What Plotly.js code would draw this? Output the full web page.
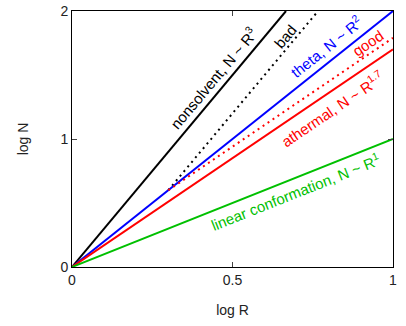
<!DOCTYPE html>
<html><head><meta charset="utf-8">
<script src="https://cdn.plot.ly/plotly-3.0.1.min.js"></script>
<style>html,body{margin:0;padding:0;background:#fff}</style>
</head><body><div id="chart" style="width:406px;height:326px"></div>
<script>
// log R values and log N values for each conformation line
const xFull = [0, 1];
const nonsolventX = [0, 0.6667];
const nonsolventY = [0, 2];
const thetaY = [0, 2];
const athermalY = [0, 1.7];
const linearY = [0, 1];
const badX = [0.3, 0.7667];
const badY = [0.6, 2];
const goodX = [0.3, 1];
const goodY = [0.6, 1.79];
const xTicks = [0, 0.5, 1];
const xTickText = ['0', '0.5', '1'];
const yTicks = [0, 1, 2];
const yTickText = ['0', '1', '2'];

const green = '#00c000';
const traces = [
  {x: nonsolventX, y: nonsolventY, mode: 'lines', line: {color: '#000', width: 2}},
  {x: badX, y: badY, mode: 'lines', line: {color: '#000', width: 2, dash: '2px,4px'}},
  {x: xFull, y: thetaY, mode: 'lines', line: {color: '#0000ff', width: 2}},
  {x: goodX, y: goodY, mode: 'lines', line: {color: '#ff0000', width: 2, dash: '2px,4px'}},
  {x: xFull, y: athermalY, mode: 'lines', line: {color: '#ff0000', width: 2}},
  {x: xFull, y: linearY, mode: 'lines', line: {color: green, width: 2}}
];
const fnt = (c, s) => ({family: 'Liberation Sans, Arial, sans-serif', size: s || 14, color: c});
const ann = (x, y, text, angle, color) => ({x, y, xref: 'x', yref: 'y', text, textangle: -angle, showarrow: false, font: fnt(color, 15)});
const layout = {
  width: 406, height: 326,
  margin: {l: 72, r: 13, t: 11, b: 59},
  paper_bgcolor: '#fff', plot_bgcolor: '#fff',
  showlegend: false,
  xaxis: {range: [0, 1], tickvals: xTicks, ticktext: xTickText, ticks: 'inside', ticklen: 5,
    showline: true, mirror: 'ticks', linecolor: '#000', linewidth: 1, showgrid: false, zeroline: false,
    tickfont: fnt('#222'), title: {text: 'log R', font: fnt('#222'), standoff: 18}},
  yaxis: {range: [0, 2], tickvals: yTicks, ticktext: yTickText, ticks: 'inside', ticklen: 5,
    showline: true, mirror: 'ticks', linecolor: '#000', linewidth: 1, showgrid: false, zeroline: false,
    tickfont: fnt('#222'), title: {text: 'log N', font: fnt('#222'), standoff: 28}},
  annotations: [
    ann(0.44, 1.48, 'nonsolvent, N ~ R<sup>3</sup>', 50, '#000'),
    ann(0.665, 1.8, 'bad', 50, '#000'),
    ann(0.79, 1.72, 'theta, N ~ R<sup>2</sup>', 38.6, '#0000ff'),
    ann(0.92, 1.75, 'good', 34, '#ff0000'),
    ann(0.81, 1.24, 'athermal, N ~ R<sup>1.7</sup>', 34, '#ff0000'),
    ann(0.695, 0.59, 'linear conformation, N ~ R<sup>1</sup>', 21.7, green)
  ]
};
Plotly.newPlot('chart', traces, layout, {displayModeBar: false, staticPlot: true});
</script></body></html>
